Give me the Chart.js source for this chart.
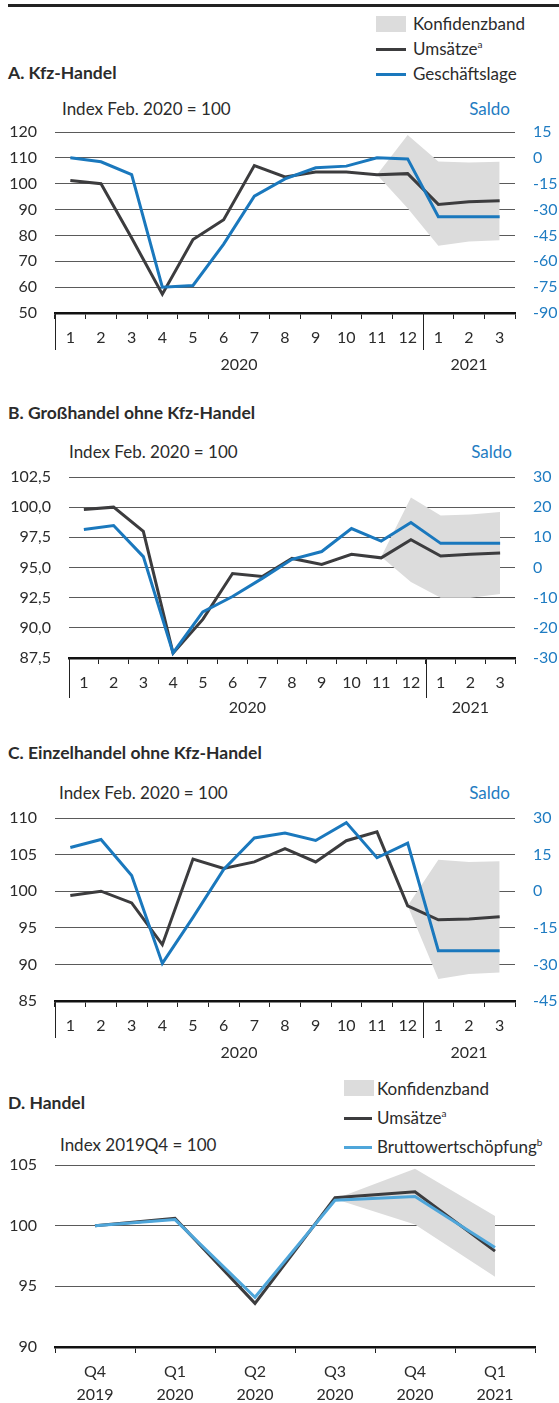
<!DOCTYPE html>
<html lang="de">
<head>
<meta charset="UTF-8">
<title>Handel: Umsätze und Geschäftslage</title>
<script src="https://cdn.jsdelivr.net/npm/chart.js"></script>
<style>
  body { margin: 0; background: #fff; font-family: Lato, 'Open Sans', sans-serif; color: #2b2b2b; }
  #page { position: relative; width: 559px; height: 1403px; overflow: hidden; }
  .txt { position: absolute; white-space: nowrap; line-height: 20px; font-size: 17px; }
  .title { font-weight: 700; font-size: 17.5px; }
  .blue { color: #1f7cc2; }
  .right { text-align: right; }
  .swatch { position: absolute; background: #dcdcdc; }
  .key { position: absolute; height: 3px; }
  canvas { position: absolute; left: 0; }
  sup { font-size: 10px; vertical-align: 7px; line-height: 0; }
</style>
</head>
<body>
<div id="page">
  <div style="position:absolute;left:8px;top:4px;width:551px;height:3px;background:#222"></div>

  <!-- A -->
  <div class="swatch" style="left:376px;top:16px;width:30px;height:16px"></div>
  <div class="txt" style="left:413px;top:14px">Konfidenzband</div>
  <div class="key" style="left:376px;top:48px;width:30px;background:#3c3c3e"></div>
  <div class="txt" style="left:413px;top:39px">Umsätze<sup>a</sup></div>
  <div class="key" style="left:376px;top:73px;width:30px;background:#1a78bd"></div>
  <div class="txt" style="left:413px;top:64px">Geschäftslage</div>
  <div class="txt title" style="left:8px;top:63px">A. Kfz-Handel</div>
  <div class="txt" style="left:62px;top:99px">Index Feb. 2020 = 100</div>
  <div class="txt blue right" style="right:49px;top:99px">Saldo</div>
  <canvas id="chartA" width="559" height="265" style="top:118px"></canvas>

  <!-- B -->
  <div class="txt title" style="left:8px;top:403px">B. Großhandel ohne Kfz-Handel</div>
  <div class="txt" style="left:69px;top:442px">Index Feb. 2020 = 100</div>
  <div class="txt blue right" style="right:47px;top:442px">Saldo</div>
  <canvas id="chartB" width="559" height="260" style="top:463px"></canvas>

  <!-- C -->
  <div class="txt title" style="left:8px;top:743px">C. Einzelhandel ohne Kfz-Handel</div>
  <div class="txt" style="left:59px;top:783px">Index Feb. 2020 = 100</div>
  <div class="txt blue right" style="right:49px;top:783px">Saldo</div>
  <canvas id="chartC" width="559" height="255" style="top:804px"></canvas>

  <!-- D -->
  <div class="swatch" style="left:344px;top:1080px;width:30px;height:16px"></div>
  <div class="txt" style="left:377px;top:1079px">Konfidenzband</div>
  <div class="key" style="left:344px;top:1117px;width:28px;background:#3c3c3e"></div>
  <div class="txt" style="left:377px;top:1108px">Umsätze<sup>a</sup></div>
  <div class="key" style="left:344px;top:1146px;width:28px;background:#4fa6da"></div>
  <div class="txt" style="left:377px;top:1137px">Bruttowertschöpfung<sup>b</sup></div>
  <div class="txt title" style="left:8px;top:1093px">D. Handel</div>
  <div class="txt" style="left:60px;top:1135px">Index 2019Q4 = 100</div>
  <canvas id="chartD" width="559" height="252" style="top:1151px"></canvas>
</div>

<script>
// ---- data ----
const months = ['1','2','3','4','5','6','7','8','9','10','11','12','1','2','3'];
const years = ['2020', '2021'];
const yearSpans = [12, 3];

// A. Kfz-Handel
const kfzUmsatz = [101.2, 100.0, 79.0, 57.3, 78.4, 86.1, 107.0, 102.6, 104.5, 104.5, 103.5, 103.9, 92.0, 93.0, 93.4];
const kfzLage   = [0, -2.3, -9.7, -75, -74, -50, -22.2, -12.2, -5.8, -4.8, 0, -0.6, -34.2, -34.2, -34.2];
const kfzBandHi = [null, null, null, null, null, null, null, null, null, null, 103.5, 118.8, 108.6, 108.2, 108.5];
const kfzBandLo = [null, null, null, null, null, null, null, null, null, null, 103.5, 90.5, 76.0, 77.7, 78.1];

// B. Großhandel ohne Kfz-Handel
const grossUmsatz = [99.8, 100.0, 98.0, 87.9, 90.7, 94.5, 94.25, 95.75, 95.26, 96.1, 95.8, 97.3, 95.95, 96.1, 96.2];
const grossLage   = [12.6, 13.9, 3.6, -28.3, -14.7, -9.6, -3.6, 2.7, 5.3, 12.9, 8.75, 14.9, 8.0, 8.0, 8.0];
const grossBandHi = [null, null, null, null, null, null, null, null, null, null, 95.9, 100.8, 99.3, 99.4, 99.6];
const grossBandLo = [null, null, null, null, null, null, null, null, null, null, 95.9, 93.8, 92.5, 92.5, 92.8];

// C. Einzelhandel ohne Kfz-Handel
const einzelUmsatz = [99.4, 100.0, 98.4, 92.7, 104.4, 103.1, 104.0, 105.8, 104.0, 106.9, 108.1, 98.0, 96.1, 96.2, 96.5];
const einzelLage   = [17.9, 21.2, 6.4, -29.6, -10.7, 8.9, 21.8, 23.8, 20.8, 28.1, 13.7, 19.7, -24.4, -24.4, -24.4];
const einzelBandHi = [null, null, null, null, null, null, null, null, null, null, null, 98.0, 104.3, 104.0, 104.1];
const einzelBandLo = [null, null, null, null, null, null, null, null, null, null, null, 98.0, 88.0, 88.7, 88.9];

// D. Handel (Quartale)
const quarterNames = ['Q4', 'Q1', 'Q2', 'Q3', 'Q4', 'Q1'];
const quarterYears = ['2019', '2020', '2020', '2020', '2020', '2021'];
const handelUmsatz = [100, 100.6, 93.6, 102.3, 102.8, 97.9];
const handelBWS    = [100, 100.5, 94.1, 102.1, 102.4, 98.2];
const handelBandHi = [null, null, null, 102.2, 104.7, 100.8];
const handelBandLo = [null, null, null, 102.2, 100.1, 95.8];

// ---- style ----
const FONT = 'Lato, "Open Sans", sans-serif';
const DARK = '#3c3c3e', BLUE = '#1a78bd', LIGHTBLUE = '#4fa6da', BAND = '#dcdcdc';
const TEXT = '#2b2b2b', BLUETEXT = '#1f7cc2';

// year row + long separators under the month axis
const yearRow = {
  id: 'yearRow',
  afterDraw(chart, args, opts) {
    if (!opts.years) return;
    const ctx = chart.ctx, x = chart.scales.x, bottom = chart.chartArea.bottom;
    ctx.save();
    ctx.strokeStyle = '#222'; ctx.lineWidth = 1;
    let start = 0;
    const edges = [chart.chartArea.left];
    opts.years.forEach((yr, i) => {
      const end = start + opts.spans[i] - 1;
      const cx = (x.getPixelForValue(start) + x.getPixelForValue(end)) / 2;
      ctx.fillStyle = TEXT; ctx.font = '16px ' + FONT;
      ctx.textAlign = 'center'; ctx.textBaseline = 'middle';
      ctx.fillText(yr, cx, bottom + opts.yearOffset);
      if (i > 0) edges.push((x.getPixelForValue(start - 1) + x.getPixelForValue(start)) / 2);
      start = end + 1;
    });
    edges.forEach(px => {
      ctx.beginPath();
      ctx.moveTo(Math.round(px) + 0.5, bottom);
      ctx.lineTo(Math.round(px) + 0.5, bottom + opts.sepLen);
      ctx.stroke();
    });
    ctx.restore();
  }
};

function line(data, color, axis, order) {
  return { data, borderColor: color, borderWidth: 3, pointRadius: 0, fill: false, yAxisID: axis, order };
}
function band(hi, lo) {
  return [
    { data: hi, borderWidth: 0, borderColor: 'rgba(0,0,0,0)', backgroundColor: BAND, pointRadius: 0, fill: '+1', yAxisID: 'y', order: 5 },
    { data: lo, borderWidth: 0, borderColor: 'rgba(0,0,0,0)', pointRadius: 0, fill: false, yAxisID: 'y', order: 5 }
  ];
}

// vertical axes: fixed width, no extra padding so the plot area sits where the layout says
function fixAxis(width) {
  return s => { s.width = width; s.paddingTop = 0; s.paddingBottom = 0; };
}

function panel(id, p) {
  const canvas = document.getElementById(id);
  const cTop = parseFloat(canvas.style.top), cH = canvas.height;
  const scales = {
    x: {
      type: 'category', offset: true,
      grid: { offset: true, drawOnChartArea: false, tickLength: 6, color: '#222', lineWidth: 1 },
      border: { display: true, color: '#111', width: 2.5 },
      ticks: { autoSkip: false, maxRotation: 0, padding: p.tickPad, color: TEXT,
               font: { size: 16, family: FONT, lineHeight: p.lineHeight || 1.2 } },
      afterFit: s => { s.height = cH - (p.bottom - cTop); s.paddingLeft = 0; s.paddingRight = 0; }
    },
    y: {
      position: 'left', min: p.left.min, max: p.left.max,
      ticks: { stepSize: p.left.step, padding: 18, color: TEXT, font: { size: 16, family: FONT }, callback: p.left.fmt },
      grid: { color: '#5a5a5a', lineWidth: 1, drawTicks: false },
      border: { display: false },
      afterFit: fixAxis(p.l)
    }
  };
  if (p.right) {
    scales.y2 = {
      position: 'right', min: p.right.min, max: p.right.max,
      ticks: { stepSize: p.right.step, padding: 18, color: BLUETEXT, font: { size: 16, family: FONT } },
      grid: { display: false, drawTicks: false },
      border: { display: false },
      afterFit: fixAxis(559 - p.r)
    };
  }
  return new Chart(canvas, {
    type: 'line',
    data: { labels: p.labels, datasets: p.datasets },
    options: {
      responsive: false, animation: false, devicePixelRatio: 1,
      layout: { autoPadding: false, padding: { top: p.top - cTop, bottom: 0, left: 0, right: p.right ? 0 : 559 - p.r } },
      plugins: { legend: { display: false }, tooltip: { enabled: false }, yearRow: p.years || {} },
      scales
    },
    plugins: [yearRow]
  });
}

const intFmt = v => v;
const deFmt = v => v.toFixed(1).replace('.', ',');

panel('chartA', {
  labels: months, top: 132, bottom: 313, l: 55, r: 515, tickPad: 9,
  left: { min: 50, max: 120, step: 10, fmt: intFmt },
  right: { min: -90, max: 15, step: 15 },
  years: { years, spans: yearSpans, yearOffset: 52, sepLen: 37 },
  datasets: [...band(kfzBandHi, kfzBandLo), line(kfzUmsatz, DARK, 'y', 2), line(kfzLage, BLUE, 'y2', 1)]
});

panel('chartB', {
  labels: months, top: 477, bottom: 658, l: 69, r: 515, tickPad: 9,
  left: { min: 87.5, max: 102.5, step: 2.5, fmt: deFmt },
  right: { min: -30, max: 30, step: 10 },
  years: { years, spans: yearSpans, yearOffset: 50, sepLen: 40 },
  datasets: [...band(grossBandHi, grossBandLo), line(grossUmsatz, DARK, 'y', 2), line(grossLage, BLUE, 'y2', 1)]
});

panel('chartC', {
  labels: months, top: 818, bottom: 1001, l: 55, r: 515, tickPad: 9,
  left: { min: 85, max: 110, step: 5, fmt: intFmt },
  right: { min: -45, max: 30, step: 15 },
  years: { years, spans: yearSpans, yearOffset: 52, sepLen: 37 },
  datasets: [...band(einzelBandHi, einzelBandLo), line(einzelUmsatz, DARK, 'y', 2), line(einzelLage, BLUE, 'y2', 1)]
});

panel('chartD', {
  labels: quarterNames.map((q, i) => [q, quarterYears[i]]), top: 1165, bottom: 1347, l: 55, r: 535,
  tickPad: 7, lineHeight: 1.45,
  left: { min: 90, max: 105, step: 5, fmt: intFmt },
  datasets: [...band(handelBandHi, handelBandLo), line(handelUmsatz, DARK, 'y', 2), line(handelBWS, LIGHTBLUE, 'y', 1)]
});
</script>
</body>
</html>
